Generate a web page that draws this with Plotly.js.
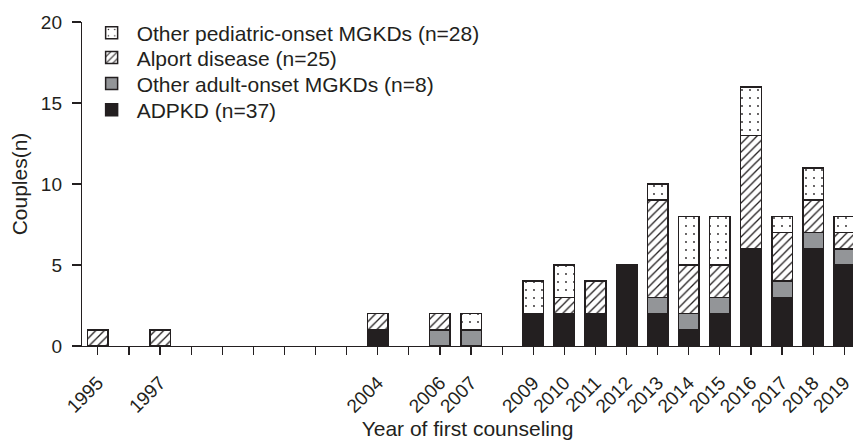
<!DOCTYPE html>
<html>
<head>
<meta charset="utf-8">
<script src="https://cdn.plot.ly/plotly-3.0.1.min.js"></script>
<style>html,body{margin:0;padding:0;background:#fff;}#chart{width:853px;height:440px;}</style>
</head>
<body>
<div id="chart"></div>
<script>
const years = [1995,1996,1997,1998,1999,2000,2001,2002,2003,2004,2005,2006,2007,2008,2009,2010,2011,2012,2013,2014,2015,2016,2017,2018,2019];
const labeledYears = [1995,1997,2004,2006,2007,2009,2010,2011,2012,2013,2014,2015,2016,2017,2018,2019];
const adpkd     = [0,0,0,0,0,0,0,0,0,1,0,0,0,0,2,2,2,5,2,1,2,6,3,6,5];
const otherAdult= [0,0,0,0,0,0,0,0,0,0,0,1,1,0,0,0,0,0,1,1,1,0,1,1,1];
const alport    = [1,0,1,0,0,0,0,0,0,1,0,1,0,0,0,1,2,0,6,3,2,7,3,2,1];
const pediatric = [0,0,0,0,0,0,0,0,0,0,0,0,1,0,2,2,0,0,1,3,3,3,1,2,1];
const seriesNames = ['ADPKD (n=37)','Other adult-onset MGKDs (n=8)','Alport disease (n=25)','Other pediatric-onset MGKDs (n=28)'];

// zero counts are simply not drawn (no outline at the baseline)
const nz = arr => arr.map(v => v === 0 ? null : v);

const lineStyle = {color:'#231f20', width:1.5};
const common = {type:'bar', x:years, width:0.66, hoverinfo:'skip'};
const traces = [
  Object.assign({}, common, {y:nz(adpkd), name:seriesNames[0], legend:'legend4', marker:{color:'#231f20', line:lineStyle}}),
  Object.assign({}, common, {y:nz(otherAdult), name:seriesNames[1], legend:'legend3', marker:{color:'#939598', line:lineStyle}}),
  Object.assign({}, common, {y:nz(alport), name:seriesNames[2], legend:'legend2', marker:{color:'#ffffff', line:lineStyle, pattern:{shape:'/', fgcolor:'#231f20', bgcolor:'#ffffff', size:6, solidity:0.22}}}),
  Object.assign({}, common, {y:nz(pediatric), name:seriesNames[3], legend:'legend', marker:{color:'#ffffff', line:lineStyle, pattern:{shape:'.', fgcolor:'#231f20', bgcolor:'#ffffff', size:8, solidity:0.04}}})
];

const tickText = years.map(y => labeledYears.indexOf(y) >= 0 ? String(y) : '');

const legendBase = {x:0.006, xanchor:'left', yanchor:'middle', font:{size:21, color:'#231f20'}, bgcolor:'rgba(0,0,0,0)', itemwidth:40};
const mkLegend = y => Object.assign({}, legendBase, {y:y});

const layout = {
  width:853, height:440,
  margin:{l:82, r:0, t:22, b:94},
  barmode:'stack',
  paper_bgcolor:'#fff', plot_bgcolor:'#fff',
  font:{family:'Liberation Sans, Arial, sans-serif', size:20, color:'#231f20'},
  showlegend:true,
  legend: mkLegend(0.966),
  legend2: mkLegend(0.889),
  legend3: mkLegend(0.809),
  legend4: mkLegend(0.728),
  xaxis:{
    range:[1994.49, 2019.28], tickmode:'array', tickvals:years, ticktext:tickText,
    tickangle:-45, ticks:'outside', ticklen:8, tickwidth:1.2, tickcolor:'#231f20',
    showline:true, linecolor:'#231f20', linewidth:1.2, showgrid:false, zeroline:false,
    tickfont:{size:19}, automargin:false, ticklabeloverflow:'allow', ticklabelstandoff:9,
    title:{text:'Year of first counseling', font:{size:21}, standoff:4}
  },
  yaxis:{
    range:[0,20], tickvals:[0,5,10,15,20], ticks:'outside', ticklen:9, tickwidth:1.2, tickcolor:'#231f20',
    showline:true, linecolor:'#231f20', linewidth:1.2, showgrid:false, zeroline:false,
    tickfont:{size:19}, automargin:false, ticklabelstandoff:6,
    title:{text:'Couples(n)', font:{size:21}, standoff:7}
  }
};
Plotly.newPlot('chart', traces, layout, {displayModeBar:false, staticPlot:true});
</script>
</body>
</html>
